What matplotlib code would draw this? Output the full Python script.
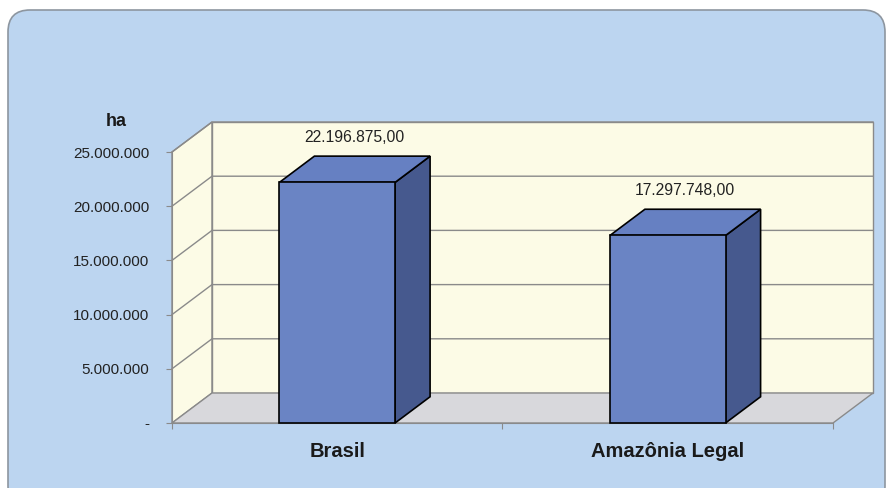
import matplotlib.pyplot as plt
from matplotlib.patches import Polygon, Rectangle, FancyBboxPatch
from matplotlib.ticker import FuncFormatter

plt.rcParams['font.family'] = ['Liberation Sans', 'DejaVu Sans']

categories = ["Brasil", "Amazônia Legal"]
area_ha = [22196875.00, 17297748.00]
y_ticks = [0, 5000000, 10000000, 15000000, 20000000, 25000000]
y_max = 25000000
unit_label = "ha"

# colours of the box chart
bg_blue = "#bcd5f0"
wall_col = "#fcfbe6"
floor_col = "#d8d8dc"
grid_col = "#8a8a8a"
bar_front = "#6a84c4"
bar_top = "#6680c2"
bar_side = "#46598e"

DEPTH = (40, 30)      # wall depth in pixels (right, up)
BAR_DEPTH = 0.875     # bar depth as a share of the wall depth
BAR_W = 0.35


def pt_br(v, decimals=0):
    s = f"{v:,.{decimals}f}"
    return s.replace(",", "X").replace(".", ",").replace("X", ".")


fig = plt.figure(figsize=(8.87, 4.88), dpi=100)
fig.patch.set_facecolor("white")

frame = FancyBboxPatch((8, -20), 877, 498, boxstyle="round,pad=0,rounding_size=22",
                       transform=None, facecolor=bg_blue, edgecolor="#8d96a0", lw=1.2,
                       zorder=-5)
fig.patches.append(frame)

ax = fig.add_axes([172 / 887, 65 / 488, 661 / 887, 271 / 488])
ax.set_xlim(0, len(categories))
ax.set_ylim(0, y_max)
ax.patch.set_visible(False)


def shift(x, y, d=1.0):
    # push a data point back into the depth of the box
    px, py = ax.transData.transform((x, y))
    return tuple(ax.transData.inverted().transform((px + d * DEPTH[0], py + d * DEPTH[1])))


x_end = len(categories)

# walls and floor
left_wall = [(0, 0), (0, y_max), shift(0, y_max), shift(0, 0)]
back_wall = [shift(0, 0), shift(x_end, 0), shift(x_end, y_max), shift(0, y_max)]
floor = [(0, 0), (x_end, 0), shift(x_end, 0), shift(0, 0)]
for poly, col in [(left_wall, wall_col), (back_wall, wall_col), (floor, floor_col)]:
    ax.add_patch(Polygon(poly, closed=True, facecolor=col, edgecolor=grid_col,
                         lw=1, clip_on=False, zorder=1))

# gridlines running along the left wall and the back wall
for v in y_ticks[1:]:
    pts = [(0, v), shift(0, v), shift(x_end, v)]
    ax.plot([p[0] for p in pts], [p[1] for p in pts], color=grid_col, lw=1,
            clip_on=False, zorder=2)

# 3d bars
for i, v in enumerate(area_ha):
    xc = i + 0.5
    x0, x1 = xc - BAR_W / 2, xc + BAR_W / 2
    side = [(x1, 0), (x1, v), shift(x1, v, BAR_DEPTH), shift(x1, 0, BAR_DEPTH)]
    top = [(x0, v), (x1, v), shift(x1, v, BAR_DEPTH), shift(x0, v, BAR_DEPTH)]
    ax.add_patch(Polygon(side, closed=True, facecolor=bar_side, edgecolor="black",
                         lw=1.2, clip_on=False, zorder=3))
    ax.add_patch(Polygon(top, closed=True, facecolor=bar_top, edgecolor="black",
                         lw=1.2, clip_on=False, zorder=3))
    ax.add_patch(Rectangle((x0, 0), BAR_W, v, facecolor=bar_front, edgecolor="black",
                           lw=1.2, clip_on=False, zorder=4))
    # value label centred over the middle of the bar top
    ax.annotate(pt_br(v, 2), xy=shift(xc, v, BAR_DEPTH / 2), xytext=(0, 23),
                textcoords="offset points", ha="center", va="center",
                fontsize=11.3, color="#222222", zorder=5)

# axes
for s in ["top", "right"]:
    ax.spines[s].set_visible(False)
ax.spines["left"].set_color(grid_col)
ax.spines["bottom"].set_color(grid_col)

ax.set_yticks(y_ticks)
ax.yaxis.set_major_formatter(FuncFormatter(lambda v, p: "-" if v == 0 else pt_br(v)))
ax.tick_params(axis="y", length=4.3, color=grid_col, labelsize=11,
               labelcolor="#222222", pad=12)

ax.set_xticks(range(x_end + 1))
ax.set_xticklabels([])
ax.set_xticks([i + 0.5 for i in range(x_end)], minor=True)
ax.set_xticklabels(categories, minor=True, fontsize=14.5, fontweight="bold",
                   color="#1a1a1a")
ax.tick_params(axis="x", which="major", length=4, color=grid_col)
ax.tick_params(axis="x", which="minor", length=0, pad=14)

ax.annotate(unit_label, xy=(0, y_max), xytext=(-40, 22), textcoords="offset points",
            ha="center", va="center", fontsize=13, fontweight="bold", color="#1a1a1a")

fig.savefig("out.png", dpi=100)
